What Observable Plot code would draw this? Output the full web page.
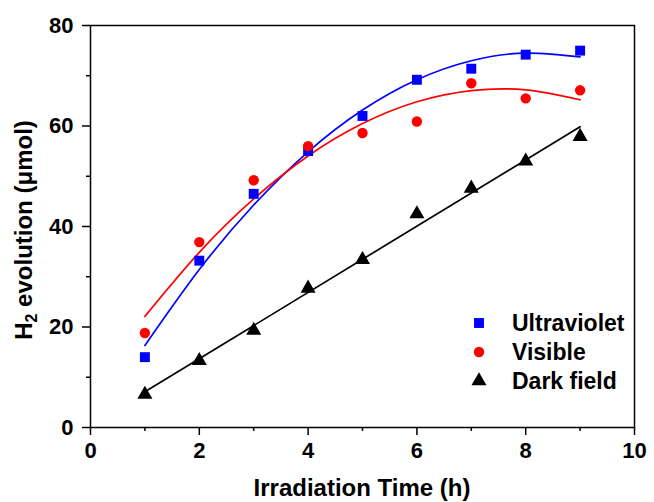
<!DOCTYPE html>
<html><head><meta charset="utf-8">
<script src="https://cdn.jsdelivr.net/npm/d3@7"></script>
<script src="https://cdn.jsdelivr.net/npm/@observablehq/plot@0.6"></script>
<style>
body{margin:0;background:#fff}
#chart{width:654px;height:502px}
svg{font-family:"Liberation Sans",Arial,sans-serif}
</style>
</head><body><div id="chart"></div>
<script>
const hours = [1, 2, 3, 4, 5, 6, 7, 8, 9];
const ultraviolet = [14.0, 33.2, 46.5, 55.0, 62.0, 69.2, 71.4, 74.2, 75.0];
const visible = [18.8, 36.9, 49.2, 56.0, 58.6, 60.9, 68.5, 65.5, 67.1];
const darkField = [6.6, 13.3, 19.3, 27.7, 33.4, 42.5, 47.6, 53.0, 57.9];
const ultravioletFit = [16.33, 31.44, 44.28, 54.86, 63.17, 69.21, 72.99, 74.50, 73.75];
const visibleFit = [22.12, 34.86, 45.50, 54.04, 60.48, 64.82, 67.05, 67.18, 65.22];
const xTicks = [0, 2, 4, 6, 8, 10];
const xMinor = [1, 3, 5, 7, 9];
const yTicks = [0, 20, 40, 60, 80];
const yMinor = [10, 30, 50, 70];
const seriesNames = ["Ultraviolet", "Visible", "Dark field"];
const seriesColors = ["#0000ff", "#ff0000", "#000000"];
const seriesSymbols = ["square", "circle", "triangle"];
const xTitle = "Irradiation Time (h)";

const rows = vals => hours.map((h, i) => ({h, v: vals[i]}));
const font = '"Liberation Sans", Arial, sans-serif';

const chart = Plot.plot({
  width: 654, height: 502,
  marginTop: 25, marginRight: 20, marginBottom: 75, marginLeft: 90,
  x: {domain: [0, 10]},
  y: {domain: [0, 80]},
  style: {fontFamily: font, fontSize: "22px", fontWeight: "bold", color: "black", background: "white"},
  marks: [
    Plot.axisX({ticks: xTicks, tickSize: 8, tickPadding: 7, strokeWidth: 1.5, fontSize: 22, fontWeight: "bold", label: null}),
    Plot.axisX({ticks: xMinor, tickSize: 4, text: null, strokeWidth: 1.5, label: null}),
    Plot.axisY({ticks: yTicks, tickSize: 8, tickPadding: 9, strokeWidth: 1.5, fontSize: 22, fontWeight: "bold", label: null}),
    Plot.axisY({ticks: yMinor, tickSize: 4, text: null, strokeWidth: 1.5, label: null}),
    Plot.frame({stroke: "black", strokeWidth: 1.5}),
    Plot.line(rows(ultravioletFit), {x: "h", y: "v", stroke: seriesColors[0], strokeWidth: 1.7, curve: "natural"}),
    Plot.line(rows(visibleFit), {x: "h", y: "v", stroke: seriesColors[1], strokeWidth: 1.7, curve: "natural"}),
    Plot.linearRegressionY(rows(darkField), {x: "h", y: "v", stroke: seriesColors[2], strokeWidth: 1.7, ci: 0}),
    Plot.dot(rows(ultraviolet), {x: "h", y: "v", symbol: seriesSymbols[0], r: 5.6, fill: seriesColors[0]}),
    Plot.dot(rows(visible), {x: "h", y: "v", symbol: seriesSymbols[1], r: 5.2, fill: seriesColors[1]}),
    Plot.dot(rows(darkField), {x: "h", y: "v", symbol: seriesSymbols[2], r: 5.6, fill: seriesColors[2]})
  ]
});
document.getElementById("chart").appendChild(chart);

const svg = d3.select(chart);
// x axis title
svg.append("text")
  .attr("x", 362).attr("y", 496)
  .attr("text-anchor", "middle")
  .attr("font-size", 24).attr("font-weight", "bold").attr("fill", "black")
  .text(xTitle);
// y axis title with subscript
const yt = svg.append("text")
  .attr("transform", "translate(32,230) rotate(-90)")
  .attr("text-anchor", "middle")
  .attr("font-size", 24).attr("font-weight", "bold").attr("fill", "black");
yt.append("tspan").text("H");
yt.append("tspan").attr("font-size", 16).attr("dy", 5).text("2");
yt.append("tspan").attr("dy", -5).text(" evolution (\u03bcmol)");

// legend
const symMap = {square: d3.symbolSquare, circle: d3.symbolCircle, triangle: d3.symbolTriangle};
const legend = svg.append("g").attr("transform", "translate(479,323)");
seriesNames.forEach((name, i) => {
  const g = legend.append("g").attr("transform", `translate(0,${i * 29})`);
  const size = seriesSymbols[i] === "circle" ? Math.PI * 5.2 * 5.2 : Math.PI * 5.6 * 5.6;
  g.append("path").attr("d", d3.symbol(symMap[seriesSymbols[i]], size)()).attr("fill", seriesColors[i]);
  g.append("text").attr("x", 33).attr("y", 8)
    .attr("text-anchor", "start")
    .attr("font-size", 23).attr("font-weight", "bold").attr("fill", "black").text(name);
});
</script>
</body></html>
